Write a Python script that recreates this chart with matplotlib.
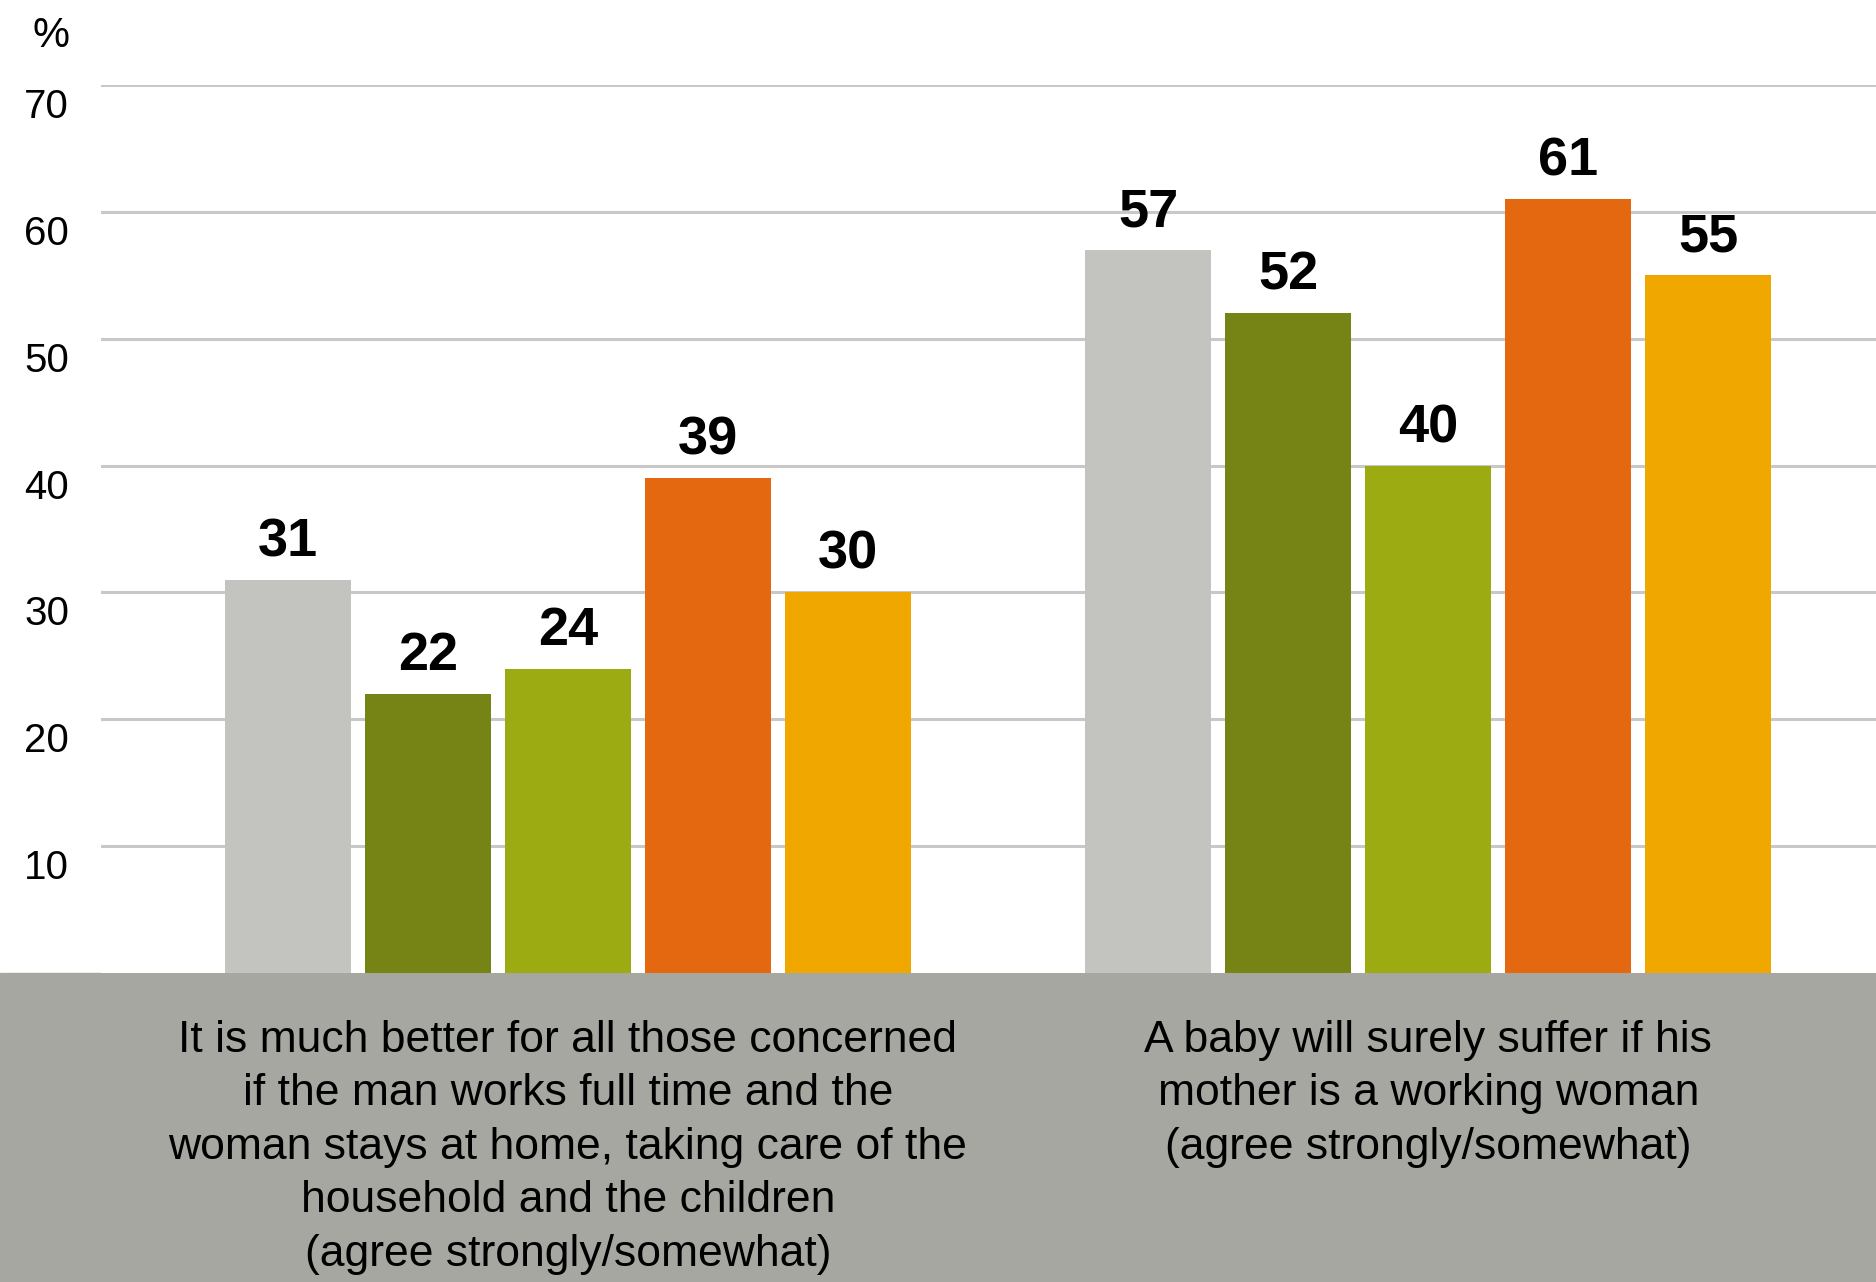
import matplotlib
matplotlib.use("Agg")
import matplotlib.pyplot as plt
import matplotlib.transforms as mtrans
from matplotlib.patches import Rectangle
import numpy as np

statements = [
    "It is much better for all those concerned\nif the man works full time and the\nwoman stays at home, taking care of the\nhousehold and the children\n(agree strongly/somewhat)",
    "A baby will surely suffer if his\nmother is a working woman\n(agree strongly/somewhat)",
]
series_1 = [31, 57]
series_2 = [22, 52]
series_3 = [24, 40]
series_4 = [39, 61]
series_5 = [30, 55]
colors = ["#c3c4bf", "#768415", "#9dab13", "#e3680f", "#f0a800"]
yticks = [10, 20, 30, 40, 50, 60, 70]

plt.rcParams['font.family'] = ['Liberation Sans', 'DejaVu Sans']

W, H = 1876, 1282
fig = plt.figure(figsize=(W/100, H/100), dpi=100)
ax = fig.add_axes([101/W, 309/H, 1 - 101/W, (973-85)/H])

# grey band under the plot
fig.add_artist(Rectangle((0, 0), 1, 309/H, transform=fig.transFigure,
                         color="#a7a7a2", zorder=0))

gap = 6.15
groups = np.arange(len(statements)) * gap
all_series = [series_1, series_2, series_3, series_4, series_5]
for i, (vals, c) in enumerate(zip(all_series, colors)):
    xs = groups + i
    ax.bar(xs, vals, width=0.9, color=c, zorder=3)
    for x, v in zip(xs, vals):
        ax.annotate(str(v), (x, v), xytext=(0, 9), textcoords="offset points",
                    ha="center", va="bottom", fontsize=39, fontweight="bold",
                    annotation_clip=False)

ax.set_xlim(-1.336, 11.35)
ax.set_ylim(0, 70)
ax.set_yticks(yticks)
ax.set_yticklabels([str(t) for t in yticks], fontsize=29)
ax.tick_params(axis="y", length=0, pad=23)
ax.tick_params(axis="x", length=0, labelbottom=False)
shift = mtrans.ScaledTranslation(0, -0.18, fig.dpi_scale_trans)
for lab in ax.get_yticklabels():
    lab.set_transform(lab.get_transform() + shift)
ax.grid(axis="y", color="#c8c8c8", linewidth=2.2, zorder=0)
ax.set_axisbelow(True)
for s in ax.spines.values():
    s.set_visible(False)

fig.text(51/W, 1 - 36/H, "%", fontsize=30, ha="center", va="center")

for g, txt in zip(groups, statements):
    xf = fig.transFigure.inverted().transform(ax.transData.transform((g + 2, 0)))[0]
    fig.text(xf, 1 - 1020/H, txt, ha="center", va="top", fontsize=32,
             linespacing=1.39)

fig.savefig("out.png", dpi=100)
